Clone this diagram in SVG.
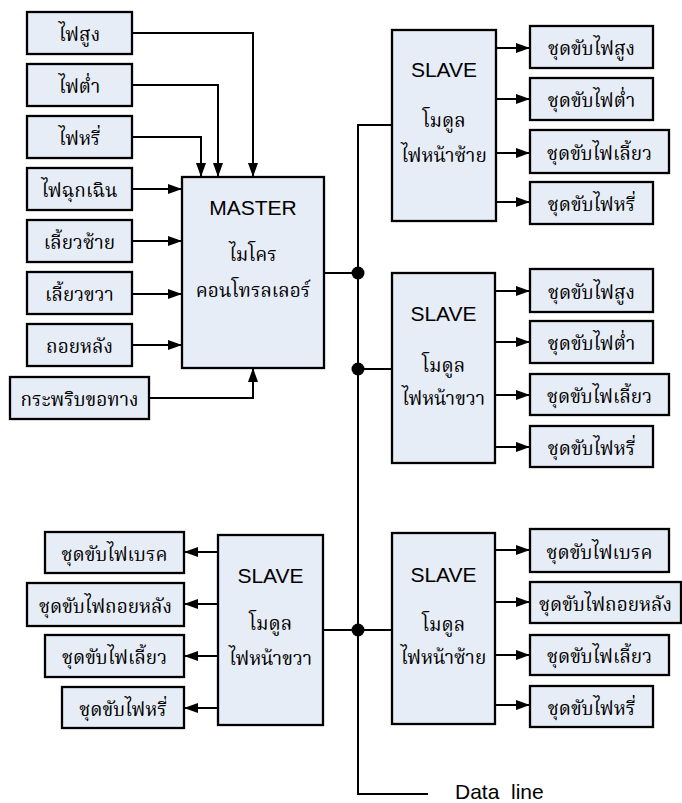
<svg xmlns="http://www.w3.org/2000/svg" width="682" height="803" viewBox="0 0 682 803">
<defs>
<style>
.box{fill:#E7EDF7;stroke:#000;stroke-width:2.3}
.th{font-family:"Noto Serif Thai","Noto Sans Thai","Liberation Serif","DejaVu Serif",serif;font-size:19px;text-anchor:middle;fill:#000}
.en{font-family:"Liberation Sans",Arial,sans-serif;font-size:21px;text-anchor:middle;fill:#000}
.ln{fill:none;stroke:#000;stroke-width:2}
</style>
<marker id="ar" viewBox="0 0 14 10" refX="14" refY="5" markerWidth="14" markerHeight="10" markerUnits="userSpaceOnUse" orient="auto">
<path d="M0,0 L14,5 L0,10 Z" fill="#000"/>
</marker>
</defs>
<rect width="682" height="803" fill="#fff"/>
<g id="connectors">
<path class="ln" d="M132,33 H253 V177" marker-end="url(#ar)"/>
<path class="ln" d="M132,85 H218 V177" marker-end="url(#ar)"/>
<path class="ln" d="M132,137 H201 V177" marker-end="url(#ar)"/>
<path class="ln" d="M132,189 H182" marker-end="url(#ar)"/>
<path class="ln" d="M132,241 H182" marker-end="url(#ar)"/>
<path class="ln" d="M132,294 H182" marker-end="url(#ar)"/>
<path class="ln" d="M132,345 H182" marker-end="url(#ar)"/>
<path class="ln" d="M149,398 H253 V368" marker-end="url(#ar)"/>
<path class="ln" d="M324,273 H358"/>
<path class="ln" d="M392,125 H358 V794 H428"/>
<path class="ln" d="M358,369 H392"/>
<path class="ln" d="M323,630 H392"/>
<circle cx="358" cy="273" r="6.5" fill="#000"/>
<circle cx="358" cy="369" r="6.5" fill="#000"/>
<circle cx="358" cy="630" r="6.5" fill="#000"/>
<path class="ln" d="M496,48 H530" marker-end="url(#ar)"/>
<path class="ln" d="M496,99 H530" marker-end="url(#ar)"/>
<path class="ln" d="M496,153 H530" marker-end="url(#ar)"/>
<path class="ln" d="M496,202 H530" marker-end="url(#ar)"/>
<path class="ln" d="M495,291 H530" marker-end="url(#ar)"/>
<path class="ln" d="M495,342 H530" marker-end="url(#ar)"/>
<path class="ln" d="M495,395 H530" marker-end="url(#ar)"/>
<path class="ln" d="M495,447 H530" marker-end="url(#ar)"/>
<path class="ln" d="M495,550 H530" marker-end="url(#ar)"/>
<path class="ln" d="M495,602 H530" marker-end="url(#ar)"/>
<path class="ln" d="M495,655 H530" marker-end="url(#ar)"/>
<path class="ln" d="M495,705 H530" marker-end="url(#ar)"/>
<path class="ln" d="M218,552 H184" marker-end="url(#ar)"/>
<path class="ln" d="M218,604 H184" marker-end="url(#ar)"/>
<path class="ln" d="M218,656 H184" marker-end="url(#ar)"/>
<path class="ln" d="M218,708 H184" marker-end="url(#ar)"/>
</g>
<g id="in1"><rect class="box" x="27" y="12" width="105" height="42"/><text class="th" x="79.5" y="41">ไฟสูง</text></g>
<g id="in2"><rect class="box" x="27" y="64" width="105" height="42"/><text class="th" x="79.5" y="93">ไฟต่ำ</text></g>
<g id="in3"><rect class="box" x="27" y="116" width="105" height="42"/><text class="th" x="79.5" y="145">ไฟหรี่</text></g>
<g id="in4"><rect class="box" x="27" y="168" width="105" height="42"/><text class="th" x="79.5" y="197">ไฟฉุกเฉิน</text></g>
<g id="in5"><rect class="box" x="27" y="220" width="105" height="42"/><text class="th" x="79.5" y="249">เลี้ยวซ้าย</text></g>
<g id="in6"><rect class="box" x="27" y="272" width="105" height="42"/><text class="th" x="79.5" y="301">เลี้ยวขวา</text></g>
<g id="in7"><rect class="box" x="27" y="324" width="105" height="42"/><text class="th" x="79.5" y="353">ถอยหลัง</text></g>
<g id="in8"><rect class="box" x="10" y="377" width="139" height="42"/><text class="th" x="79.5" y="406">กระพริบขอทาง</text></g>
<g id="master"><rect class="box" x="182" y="177" width="142" height="191"/>
<text class="en" x="253" y="215">MASTER</text>
<text class="th" x="253" y="261">ไมโคร</text>
<text class="th" x="253" y="297">คอนโทรลเลอร์</text></g>
<g id="slave1"><rect class="box" x="392" y="30" width="104" height="191"/>
<text class="en" x="444" y="77">SLAVE</text>
<text class="th" x="444" y="127">โมดูล</text>
<text class="th" x="444" y="162">ไฟหน้าซ้าย</text></g>
<g id="s1o1"><rect class="box" x="530" y="26" width="123" height="42"/><text class="th" x="591.5" y="55">ชุดขับไฟสูง</text></g>
<g id="s1o2"><rect class="box" x="530" y="78" width="123" height="42"/><text class="th" x="591.5" y="107">ชุดขับไฟต่ำ</text></g>
<g id="s1o3"><rect class="box" x="530" y="130" width="139" height="43"/><text class="th" x="599.5" y="160">ชุดขับไฟเลี้ยว</text></g>
<g id="s1o4"><rect class="box" x="530" y="182" width="123" height="42"/><text class="th" x="591.5" y="211">ชุดขับไฟหรี่</text></g>
<g id="slave2"><rect class="box" x="392" y="273" width="103" height="190"/>
<text class="en" x="443.5" y="321">SLAVE</text>
<text class="th" x="443.5" y="372">โมดูล</text>
<text class="th" x="443.5" y="405">ไฟหน้าขวา</text></g>
<g id="s2o1"><rect class="box" x="530" y="269" width="123" height="43"/><text class="th" x="591.5" y="299">ชุดขับไฟสูง</text></g>
<g id="s2o2"><rect class="box" x="530" y="321" width="123" height="42"/><text class="th" x="591.5" y="350">ชุดขับไฟต่ำ</text></g>
<g id="s2o3"><rect class="box" x="530" y="374" width="139" height="41"/><text class="th" x="599.5" y="403">ชุดขับไฟเลี้ยว</text></g>
<g id="s2o4"><rect class="box" x="530" y="426" width="123" height="41"/><text class="th" x="591.5" y="455">ชุดขับไฟหรี่</text></g>
<g id="slave3"><rect class="box" x="392" y="533" width="103" height="191"/>
<text class="en" x="443.5" y="582">SLAVE</text>
<text class="th" x="443.5" y="631">โมดูล</text>
<text class="th" x="443.5" y="664">ไฟหน้าซ้าย</text></g>
<g id="s3o1"><rect class="box" x="530" y="529" width="139" height="43"/><text class="th" x="599.5" y="559">ชุดขับไฟเบรค</text></g>
<g id="s3o2"><rect class="box" x="530" y="582" width="151" height="41"/><text class="th" x="605.5" y="611">ชุดขับไฟถอยหลัง</text></g>
<g id="s3o3"><rect class="box" x="530" y="635" width="139" height="40"/><text class="th" x="599.5" y="663">ชุดขับไฟเลี้ยว</text></g>
<g id="s3o4"><rect class="box" x="530" y="686" width="123" height="41"/><text class="th" x="591.5" y="715">ชุดขับไฟหรี่</text></g>
<g id="slave4"><rect class="box" x="218" y="535" width="105" height="190"/>
<text class="en" x="270.5" y="583">SLAVE</text>
<text class="th" x="270.5" y="630">โมดูล</text>
<text class="th" x="270.5" y="665">ไฟหน้าขวา</text></g>
<g id="s4o1"><rect class="box" x="45" y="532" width="139" height="41"/><text class="th" x="114.5" y="561">ชุดขับไฟเบรค</text></g>
<g id="s4o2"><rect class="box" x="27" y="583" width="157" height="43"/><text class="th" x="105.5" y="613">ชุดขับไฟถอยหลัง</text></g>
<g id="s4o3"><rect class="box" x="45" y="635" width="139" height="42"/><text class="th" x="114.5" y="664">ชุดขับไฟเลี้ยว</text></g>
<g id="s4o4"><rect class="box" x="62" y="687" width="122" height="41"/><text class="th" x="123" y="716">ชุดขับไฟหรี่</text></g>
<g id="dataline"><text class="en" x="455" y="799" style="text-anchor:start" xml:space="preserve">Data  line</text></g>
</svg>
